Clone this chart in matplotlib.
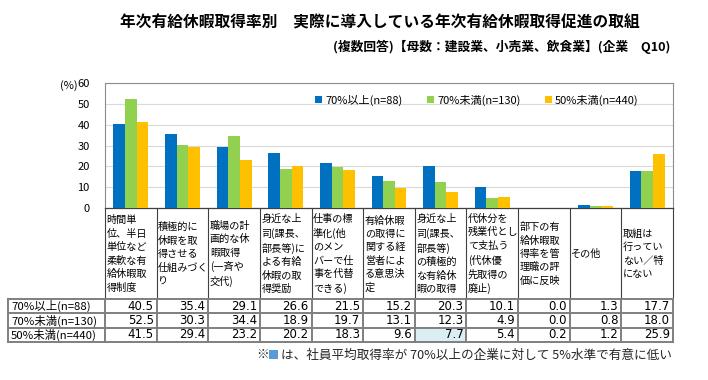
import numpy as np
import matplotlib.pyplot as plt
from matplotlib.patches import Rectangle

plt.rcParams['font.family'] = ['Noto Sans CJK JP', 'DejaVu Sans']

# Data
categories = [
    '時間単\n位、半日\n単位など\n柔軟な有\n給休暇取\n得制度',
    '積極的に\n休暇を取\n得させる\n仕組みづく\nり',
    '職場の計\n画的な休\n暇取得\n(一斉や\n交代)',
    '身近な上\n司(課長、\n部長等)に\nよる有給\n休暇の取\n得奨励',
    '仕事の標\n準化(他\nのメン\nバーで仕\n事を代替\nできる)',
    '有給休暇\nの取得に\n関する経\n営者によ\nる意思決\n定',
    '身近な上\n司(課長、\n部長等)\nの積極的\nな有給休\n暇の取得',
    '代休分を\n残業代とし\nて支払う\n(代休優\n先取得の\n廃止)',
    '部下の有\n給休暇取\n得率を管\n理職の評\n価に反映',
    'その他',
    '取組は\n行ってい\nない／特\nにない',
]
series_names = ['70%以上(n=88)', '70%未満(n=130)', '50%未満(n=440)']
above70 = [40.5, 35.4, 29.1, 26.6, 21.5, 15.2, 20.3, 10.1, 0.0, 1.3, 17.7]
below70 = [52.5, 30.3, 34.4, 18.9, 19.7, 13.1, 12.3, 4.9, 0.0, 0.8, 18.0]
below50 = [41.5, 29.4, 23.2, 20.2, 18.3, 9.6, 7.7, 5.4, 0.2, 1.2, 25.9]
# cells marked as significantly lower (series index, category index)
highlight = [(2, 6)]

series = [above70, below70, below50]
colors = ['#0070C0', '#92D050', '#FFC000']

W, H = 708, 380
fig = plt.figure(figsize=(W / 100, H / 100), dpi=100)

# pixel layout
ax_l, ax_r, ax_t, ax_b = 105, 673, 83, 208
ax = fig.add_axes([ax_l / W, 1 - ax_b / H, (ax_r - ax_l) / W, (ax_b - ax_t) / H])

n = len(categories)
x = np.arange(n)
bw = 0.225
for i, (vals, c, name) in enumerate(zip(series, colors, series_names)):
    ax.bar(x + (i - 1) * bw, vals, bw, color=c, label=name, zorder=3)

ax.set_xlim(-0.5, n - 0.5)
ax.set_ylim(0, 60)
ax.set_yticks(range(0, 61, 10))
ax.yaxis.grid(True, color='#D9D9D9', lw=0.8, zorder=0)
ax.set_xticks(np.arange(n + 1) - 0.5)
ax.set_xticklabels([])
ax.tick_params(axis='x', length=0)
ax.tick_params(axis='y', length=0, pad=11, labelsize=8)
for s in ['top', 'right', 'left']:
    ax.spines[s].set_color('#8C8C8C')
    ax.spines[s].set_linewidth(0.8)
ax.spines['bottom'].set_color('#404040')
ax.spines['bottom'].set_linewidth(0.9)
ax.text(-0.063, 0.98, '(%)', transform=ax.transAxes, fontsize=8, ha='center', va='center')

ax.legend(loc='center', bbox_to_anchor=(0.655, 0.864), ncol=3, frameon=False,
          fontsize=8, handlelength=0.6, handleheight=0.6, handletextpad=0.3,
          columnspacing=2.2, borderaxespad=0)

# overlay in pixel coordinates for titles and table
ov = fig.add_axes([0, 0, 1, 1], zorder=-1)
ov.set_xlim(0, W)
ov.set_ylim(H, 0)
ov.axis('off')

ov.text(380, 22, '年次有給休暇取得率別　実際に導入している年次有給休暇取得促進の取組',
        ha='center', va='center', fontsize=11.3, fontweight='bold')
ov.text(670, 47, '(複数回答)【母数：建設業、小売業、飲食業】(企業　Q10)',
        ha='right', va='center', fontsize=9.2, fontweight='bold')

cw = (ax_r - ax_l) / n
cat_top, cat_bot = ax_b, 298
row_top = 299
rh = 14.3
lab_l = 8

# category header cells
for j, cat in enumerate(categories):
    x0 = ax_l + j * cw
    ov.plot([x0, x0], [cat_top, cat_bot], color='#404040', lw=0.8)
    ov.text(x0 + 1.5, (cat_top + cat_bot) / 2 + 1, cat, ha='left', va='center',
            fontsize=7.3, linespacing=1.42)
ov.plot([ax_r, ax_r], [cat_top, cat_bot], color='#404040', lw=0.8)

# data table
tab_bot = row_top + 3 * rh
for (si, ci) in highlight:
    ov.add_patch(Rectangle((ax_l + ci * cw, row_top + si * rh), cw, rh,
                           facecolor='#DAEEF3', edgecolor='none'))
for k in range(4):
    y = row_top + k * rh
    ov.plot([lab_l, ax_r], [y, y], color='#7F7F7F', lw=1.4)
for xv in [lab_l] + [ax_l + j * cw for j in range(n + 1)]:
    ov.plot([xv, xv], [row_top, tab_bot], color='#7F7F7F', lw=1.4)
for i, (vals, name) in enumerate(zip(series, series_names)):
    yc = row_top + (i + 0.5) * rh
    ov.text(lab_l + 3, yc, name, ha='left', va='center', fontsize=8.2)
    for j, v in enumerate(vals):
        ov.text(ax_l + (j + 1) * cw - 3, yc, f'{v:.1f}', ha='right', va='center',
                fontsize=8.5, family='DejaVu Sans')

# footnote
ov.text(256, 355, '※', ha='left', va='center', fontsize=9, color='#262626')
ov.add_patch(Rectangle((269, 350), 9, 9, facecolor='#5B9BD5', edgecolor='none'))
ov.text(281, 355, 'は、社員平均取得率が 70%以上の企業に対して 5%水準で有意に低い',
        ha='left', va='center', fontsize=9.1, color='#262626')

plt.savefig('out.png', dpi=100)
